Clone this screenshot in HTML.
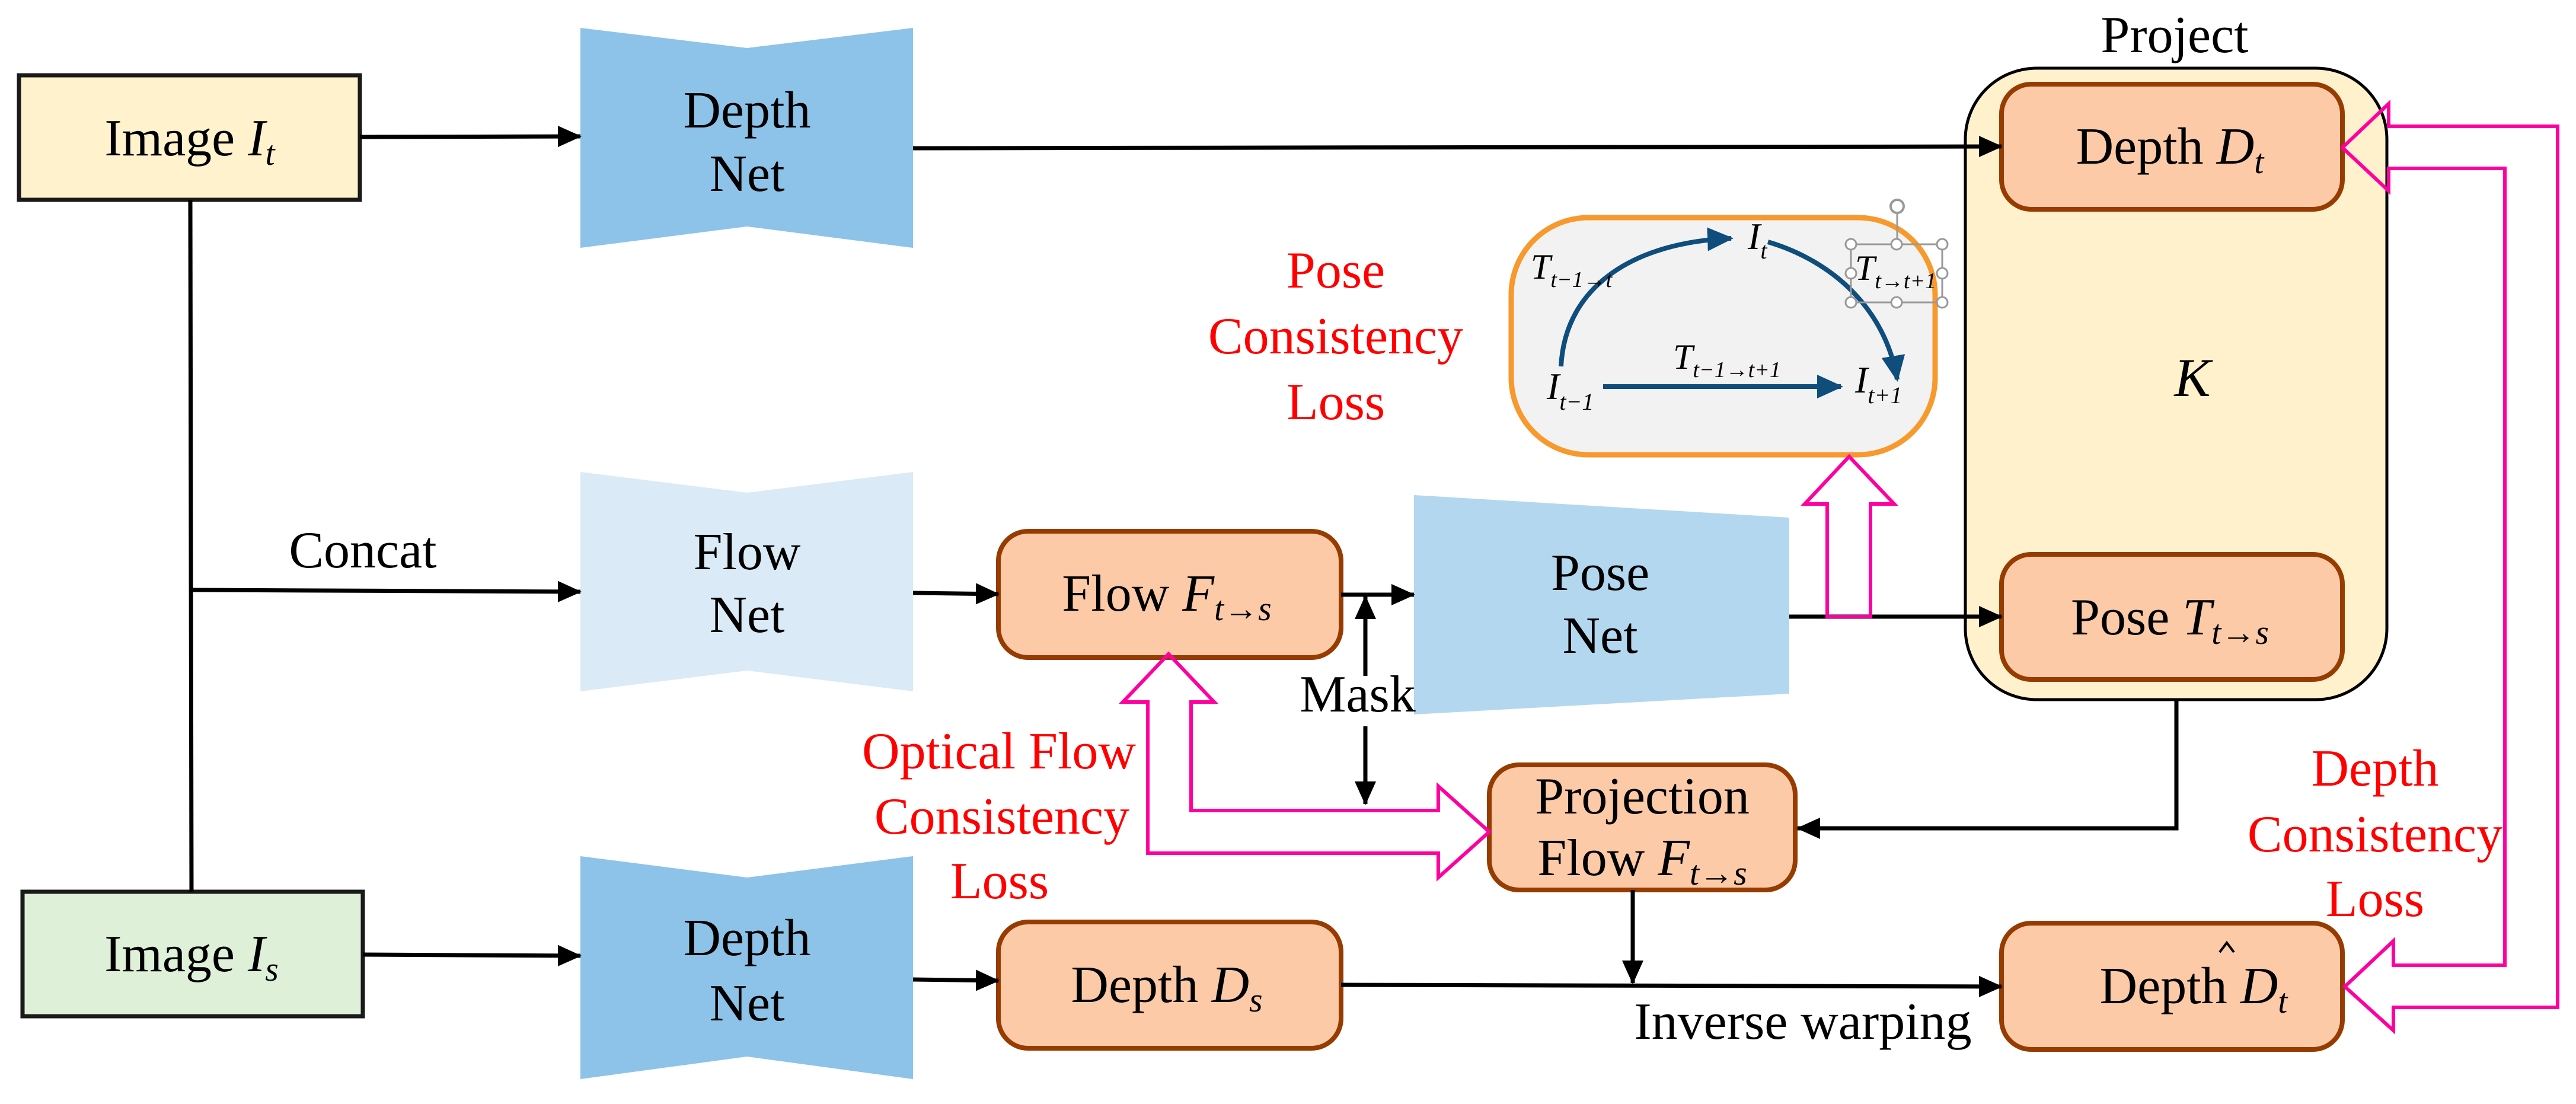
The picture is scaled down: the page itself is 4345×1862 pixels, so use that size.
<!DOCTYPE html>
<html><head><meta charset="utf-8"><style>
html,body{margin:0;padding:0;background:#fff;}
svg, svg text{font-family:"Liberation Serif","Times New Roman",serif;}
</style></head><body>
<svg width="4345" height="1857" viewBox="0 0 4345 1857" xmlns="http://www.w3.org/2000/svg" font-family="Liberation Serif, serif">
<defs>
<marker id="ah" markerUnits="userSpaceOnUse" markerWidth="40" markerHeight="36" refX="38" refY="18" orient="auto">
<path d="M0,0 L40,18 L0,36 Z" fill="#000"/></marker>
<marker id="bh" markerUnits="userSpaceOnUse" markerWidth="44" markerHeight="40" refX="40" refY="20" orient="auto">
<path d="M0,0 L44,20 L0,40 Z" fill="#0e4d7c"/></marker>
</defs>

<rect x="3315" y="115" width="711" height="1065" rx="120" fill="#fff1cc" stroke="#000" stroke-width="5"/>
<text x="3668" y="88" font-size="88" text-anchor="middle" font-family="Liberation Serif, serif">Project</text>
<text x="3698" y="668" font-size="92" text-anchor="middle" font-style="italic" font-family="Liberation Serif, serif">K</text>

<rect x="32" y="127" width="575" height="210" fill="#fff2cc" stroke="#1a1a1a" stroke-width="7"/>
<text x="320" y="262" font-size="88" text-anchor="middle" font-family="Liberation Serif, serif">Image <tspan font-style="italic">I</tspan><tspan font-style="italic" font-size="58" dy="16">t</tspan></text>
<rect x="38" y="1504" width="574" height="210" fill="#def0d8" stroke="#1a1a1a" stroke-width="7"/>
<text x="323" y="1638" font-size="88" text-anchor="middle" font-family="Liberation Serif, serif">Image <tspan font-style="italic">I</tspan><tspan font-style="italic" font-size="58" dy="16">s</tspan></text>

<polygon points="979,47 1260,81 1540,47 1540,418 1260,382 979,418" fill="#8dc3e8"/>
<text x="1260" y="215" font-size="88" text-anchor="middle" font-family="Liberation Serif, serif">Depth</text>
<text x="1260" y="322" font-size="88" text-anchor="middle" font-family="Liberation Serif, serif">Net</text>
<polygon points="979,796 1260,831 1540,796 1540,1166 1260,1131 979,1166" fill="#daeaf7"/>
<text x="1260" y="960" font-size="88" text-anchor="middle" font-family="Liberation Serif, serif">Flow</text>
<text x="1260" y="1066" font-size="88" text-anchor="middle" font-family="Liberation Serif, serif">Net</text>
<polygon points="979,1444 1260,1480 1540,1444 1540,1820 1260,1782 979,1820" fill="#8dc3e8"/>
<text x="1260" y="1611" font-size="88" text-anchor="middle" font-family="Liberation Serif, serif">Depth</text>
<text x="1260" y="1721" font-size="88" text-anchor="middle" font-family="Liberation Serif, serif">Net</text>
<polygon points="2385,835 3018,873 3018,1170 2385,1205" fill="#b3d7ef"/>
<text x="2699" y="995" font-size="88" text-anchor="middle" font-family="Liberation Serif, serif">Pose</text>
<text x="2699" y="1101" font-size="88" text-anchor="middle" font-family="Liberation Serif, serif">Net</text>

<g fill="#fdcaa8" stroke="#963c00" stroke-width="8">
<rect x="1684" y="896" width="578" height="213" rx="50"/>
<rect x="1684" y="1555" width="578" height="213" rx="50"/>
<rect x="3376" y="142" width="575" height="211" rx="50"/>
<rect x="3376" y="935" width="575" height="211" rx="50"/>
<rect x="2512" y="1290" width="516" height="211" rx="50"/>
<rect x="3376" y="1557" width="575" height="213" rx="50"/>
</g>
<g font-family="Liberation Serif, serif" font-size="88" text-anchor="middle">
<text x="1968" y="1030">Flow <tspan font-style="italic">F</tspan><tspan font-style="italic" font-size="58" dy="16">t→s</tspan></text>
<text x="1968" y="1690">Depth <tspan font-style="italic">D</tspan><tspan font-style="italic" font-size="58" dy="16">s</tspan></text>
<text x="3660" y="276">Depth <tspan font-style="italic">D</tspan><tspan font-style="italic" font-size="58" dy="16">t</tspan></text>
<text x="3660" y="1070">Pose <tspan font-style="italic">T</tspan><tspan font-style="italic" font-size="58" dy="16">t→s</tspan></text>
<text x="2770" y="1372">Projection</text>
<text x="2770" y="1476">Flow <tspan font-style="italic">F</tspan><tspan font-style="italic" font-size="58" dy="16">t→s</tspan></text>
<text x="3700" y="1692">Depth <tspan font-style="italic">D</tspan><tspan font-style="italic" font-size="58" dy="16">t</tspan></text>
</g>
<path d="M3744,1606 L3756,1590 L3768,1606" fill="none" stroke="#000" stroke-width="4"/>

<g stroke="#000" stroke-width="7" fill="none">
<line x1="607" y1="231" x2="979" y2="230" marker-end="url(#ah)"/>
<line x1="1540" y1="250" x2="3376" y2="247" marker-end="url(#ah)"/>
<line x1="321" y1="337" x2="323" y2="1504"/>
<line x1="323" y1="995" x2="979" y2="998" marker-end="url(#ah)"/>
<line x1="1540" y1="1000" x2="1684" y2="1002" marker-end="url(#ah)"/>
<line x1="612" y1="1610" x2="979" y2="1612" marker-end="url(#ah)"/>
<line x1="1540" y1="1652" x2="1684" y2="1654" marker-end="url(#ah)"/>
<line x1="2262" y1="1003" x2="2385" y2="1003" marker-end="url(#ah)"/>
<line x1="3018" y1="1040" x2="3376" y2="1040" marker-end="url(#ah)"/>
<line x1="2303" y1="1140" x2="2303" y2="1006" marker-end="url(#ah)"/>
<line x1="2303" y1="1225" x2="2303" y2="1356" marker-end="url(#ah)"/>
<polyline points="3671,1180 3671,1397 3032,1397" marker-end="url(#ah)"/>
<line x1="2754" y1="1501" x2="2754" y2="1658" marker-end="url(#ah)"/>
<line x1="2262" y1="1661" x2="3376" y2="1664" marker-end="url(#ah)"/>
</g>
<g font-family="Liberation Serif, serif" font-size="88" text-anchor="middle">
<text x="612" y="957">Concat</text>
<text x="2290" y="1200">Mask</text>
<text x="3041" y="1752">Inverse warping</text>
</g>

<g fill="#ff0000" font-size="88" text-anchor="middle" font-family="Liberation Serif, serif">
<text x="2253" y="485">Pose</text>
<text x="2253" y="596">Consistency</text>
<text x="2253" y="707">Loss</text>
<text x="1685" y="1296">Optical Flow</text>
<text x="1690" y="1406">Consistency</text>
<text x="1686" y="1515">Loss</text>
<text x="4006" y="1325">Depth</text>
<text x="4006" y="1436">Consistency</text>
<text x="4006" y="1545">Loss</text>
</g>

<rect x="2549" y="367" width="715" height="400" rx="130" fill="#f2f2f2" stroke="#f7992d" stroke-width="9"/>
<g stroke="#0e4d7c" stroke-width="8" fill="none">
<path d="M2633,618 C2640,480 2760,408 2920,402" marker-end="url(#bh)"/>
<path d="M2982,408 C3090,440 3180,520 3200,640" marker-end="url(#bh)"/>
<line x1="2704" y1="652" x2="3105" y2="652" marker-end="url(#bh)"/>
</g>
<g font-style="italic" font-family="Liberation Serif, serif">
<text x="2948" y="420" font-size="64">I<tspan font-size="40" dy="16">t</tspan></text>
<text x="2609" y="673" font-size="64">I<tspan font-size="40" dy="18">t−1</tspan></text>
<text x="3129" y="662" font-size="64">I<tspan font-size="40" dy="18">t+1</tspan></text>
<text x="2582" y="470" font-size="60">T<tspan font-size="38" dy="14">t−1→t</tspan></text>
<text x="2822" y="622" font-size="60">T<tspan font-size="38" dy="14">t−1→t+1</tspan></text>
<text x="3129" y="472" font-size="60">T<tspan font-size="38" dy="14">t→t+1</tspan></text>
</g>
<g stroke="#999" stroke-width="3" fill="#fff">
<rect x="3122" y="412" width="154" height="98" fill="none"/>
<line x1="3200" y1="360" x2="3200" y2="412"/>
<circle cx="3122" cy="412" r="9"/><circle cx="3199" cy="412" r="9"/><circle cx="3276" cy="412" r="9"/>
<circle cx="3122" cy="461" r="9"/><circle cx="3276" cy="461" r="9"/>
<circle cx="3122" cy="510" r="9"/><circle cx="3199" cy="510" r="9"/><circle cx="3276" cy="510" r="9"/>
<circle cx="3200" cy="348" r="11" fill="none" stroke-width="4"/>
</g>

<g fill="none" stroke="#ff00a0" stroke-width="6" stroke-linejoin="miter">
<polygon points="1971,1103 2048,1184 2009,1184 2009,1367 2426,1367 2426,1326 2512,1403 2426,1480 2426,1439 1936,1439 1936,1184 1894,1184"/>
<polygon points="3119,770 3195,850 3155,850 3155,1040 3082,1040 3082,850 3044,850"/>
<polygon points="3951,249 4029,175 4029,213 4314,213 4314,1699 4037,1699 4037,1738 3955,1664 4037,1587 4037,1628 4225,1628 4225,284 4029,284 4029,322"/>
</g>
</svg>
</body></html>
